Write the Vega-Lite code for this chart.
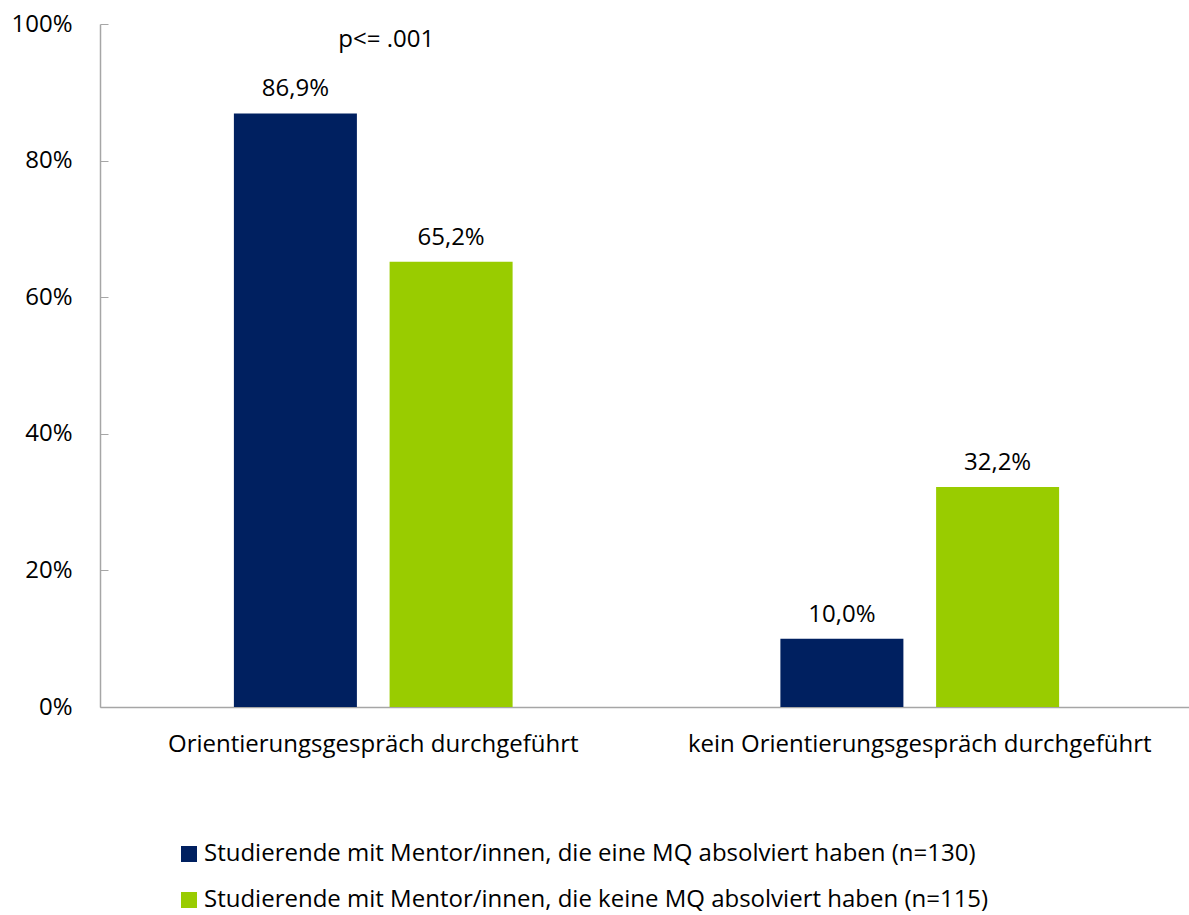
{
  "$schema": "https://vega.github.io/schema/vega-lite/v6.json",
  "width": 1093,
  "height": 683,
  "autosize": {"type": "none"},
  "padding": {"left": 100, "top": 24, "right": 0, "bottom": 208},
  "config": {
    "locale": {"number": {"decimal": ",", "thousands": ".", "grouping": [3], "currency": ["", " €"]}},
    "font": "Open Sans",
    "view": {"stroke": null},
    "axis": {"labelFont": "Open Sans", "labelColor": "#000000", "labelFontSize": 24, "domainColor": "#A6A6A6", "tickColor": "#A6A6A6", "grid": false, "title": null}
  },
  "data": {"values": [
    {"cat": "Orientierungsgespräch durchgeführt", "group": "Studierende mit Mentor/innen, die eine MQ absolviert haben (n=130)", "value": 0.869},
    {"cat": "Orientierungsgespräch durchgeführt", "group": "Studierende mit Mentor/innen, die keine MQ absolviert haben (n=115)", "value": 0.652},
    {"cat": "kein Orientierungsgespräch durchgeführt", "group": "Studierende mit Mentor/innen, die eine MQ absolviert haben (n=130)", "value": 0.100},
    {"cat": "kein Orientierungsgespräch durchgeführt", "group": "Studierende mit Mentor/innen, die keine MQ absolviert haben (n=115)", "value": 0.322}
  ]},
  "encoding": {
    "x": {"field": "cat", "type": "nominal", "sort": null,
      "scale": {"paddingInner": 0.49, "paddingOuter": 0.245},
      "axis": {"labelAngle": 0, "ticks": false, "labelPadding": 25, "domainWidth": 1.5, "labelLimit": 1000}},
    "xOffset": {"field": "group", "type": "nominal", "sort": null, "scale": {"paddingInner": 0.21, "paddingOuter": 0}},
    "y": {"field": "value", "type": "quantitative",
      "scale": {"domain": [0, 1], "nice": false},
      "axis": {"values": [0, 0.2, 0.4, 0.6, 0.8, 1], "format": ".0%", "tickSize": -8, "labelPadding": 36, "domainWidth": 1.5}}
  },
  "layer": [
    {
      "mark": {"type": "bar"},
      "encoding": {
        "color": {"field": "group", "type": "nominal", "sort": null,
          "scale": {"range": ["#002060", "#99CC00"]},
          "legend": {"title": null, "orient": "none", "legendX": 77, "legendY": 818, "direction": "vertical",
            "symbolType": "square", "symbolSize": 256, "symbolStrokeWidth": 0, "labelFontSize": 24, "labelFont": "Open Sans",
            "labelColor": "#000000", "labelOffset": 3, "rowPadding": 22, "labelLimit": 1000}}
      }
    },
    {
      "mark": {"type": "text", "baseline": "bottom", "dy": -12, "fontSize": 24, "font": "Open Sans", "color": "#000000"},
      "encoding": {"text": {"field": "value", "type": "quantitative", "format": ".1%"}}
    },
    {
      "data": {"values": [{"cat": "Orientierungsgespräch durchgeführt", "note": "p<= .001", "v": 0.977}]},
      "mark": {"type": "text", "fontSize": 24, "font": "Open Sans", "color": "#000000", "dx": 13},
      "encoding": {
        "x": {"field": "cat", "type": "nominal"},
        "xOffset": null,
        "y": {"field": "v", "type": "quantitative"},
        "text": {"field": "note"}
      }
    }
  ]
}
